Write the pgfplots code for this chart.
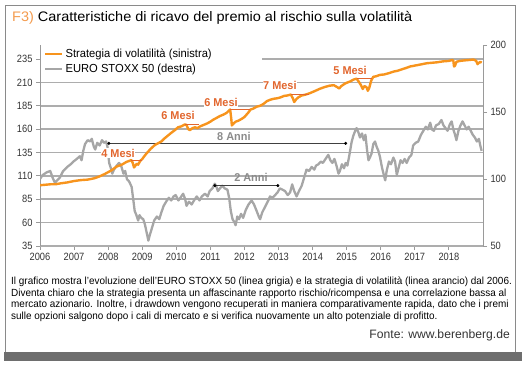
\documentclass[border=0pt]{standalone}
\usepackage{pgfplots}
\pgfplotsset{compat=1.18}
\usepackage{fontspec}
\setmainfont{Liberation Sans}
\newfontfamily\condfont{Liberation Sans}[FakeStretch=0.88]
\newfontfamily\txtfont{Liberation Sans}[FakeStretch=0.96]
\newfontfamily\titlefont{Liberation Sans}[FakeStretch=1.05]
\definecolor{orline}{HTML}{F7941D}
\definecolor{mesi}{HTML}{E2662E}
\definecolor{f3col}{HTML}{F39A4C}
\definecolor{grline}{HTML}{A6A6A6}
\definecolor{gridgray}{HTML}{ADADAD}
\definecolor{axisgray}{HTML}{9A9A9A}
\definecolor{framegray}{HTML}{8A8A8A}
\definecolor{bandgray}{HTML}{6E6E6E}
\definecolor{ticktext}{HTML}{333333}
\definecolor{annlabel}{HTML}{8C8C8C}

\pgfplotstableread{
x y
2006.00 100
2006.08 103
2006.20 105
2006.30 106
2006.37 101
2006.44 97
2006.50 99
2006.58 101
2006.68 106
2006.80 109
2006.90 111
2006.98 113
2007.08 115
2007.17 117
2007.22 114
2007.27 121
2007.32 126
2007.40 129
2007.47 128
2007.52 130
2007.58 124
2007.62 122
2007.68 127
2007.75 125
2007.82 129
2007.88 127
2007.94 128
2007.98 124
2008.03 112
2008.08 108
2008.12 104
2008.17 107
2008.25 110
2008.32 112
2008.38 110
2008.45 104
2008.50 106
2008.55 100
2008.62 98
2008.69 94
2008.73 86
2008.78 76
2008.83 73
2008.88 69
2008.92 73
2008.97 71
2009.03 70
2009.08 66
2009.13 60
2009.18 54
2009.22 58
2009.28 63
2009.35 69
2009.43 72
2009.50 70
2009.56 75
2009.63 80
2009.70 83
2009.78 86
2009.85 84
2009.92 87
2009.98 88
2010.06 84
2010.12 86
2010.20 89
2010.26 85
2010.30 80
2010.37 83
2010.45 81
2010.52 84
2010.60 87
2010.68 84
2010.75 87
2010.84 89
2010.92 87
2010.98 91
2011.06 93
2011.13 96.5
2011.18 94
2011.22 91
2011.28 93
2011.35 95
2011.42 93
2011.50 92
2011.55 86
2011.60 76
2011.65 70
2011.70 68
2011.74 65.5
2011.79 72
2011.84 70
2011.90 74
2011.96 71
2012.04 77
2012.12 81
2012.21 84
2012.28 81
2012.36 76
2012.42 72
2012.46 70
2012.52 75
2012.58 78
2012.64 81
2012.70 84
2012.75 87
2012.82 86
2012.90 88
2012.97 90
2013.04 93
2013.12 92
2013.19 91
2013.27 88
2013.34 90
2013.40 96
2013.46 91
2013.53 87
2013.60 91
2013.68 95
2013.75 101
2013.82 107
2013.90 106
2013.97 109
2014.05 107
2014.10 110
2014.17 111
2014.24 113
2014.30 112
2014.38 115
2014.46 118
2014.52 114
2014.58 112
2014.64 115
2014.70 110
2014.76 104
2014.80 106
2014.86 111
2014.92 108
2014.97 112
2015.02 110
2015.08 118
2015.14 127
2015.19 132
2015.25 136
2015.29 138
2015.34 135
2015.39 131
2015.45 134
2015.50 129
2015.55 133
2015.60 121
2015.64 114
2015.68 116
2015.73 119
2015.78 126
2015.83 128
2015.88 124
2015.93 121
2015.98 116
2016.04 108
2016.10 102
2016.13 99
2016.18 107
2016.24 113
2016.30 111
2016.37 116
2016.42 113
2016.47 103
2016.52 108
2016.58 114
2016.64 112
2016.70 115
2016.76 112
2016.83 116
2016.90 118
2016.95 125
2017.02 127
2017.10 128
2017.18 133
2017.25 136
2017.32 139
2017.38 137
2017.45 142
2017.50 137
2017.56 136
2017.62 140
2017.70 141
2017.78 144
2017.84 140
2017.90 138
2017.96 136
2018.03 141
2018.08 143
2018.13 137
2018.18 133
2018.22 129
2018.28 136
2018.34 140
2018.40 143
2018.46 140
2018.52 137
2018.58 139
2018.64 136
2018.70 133
2018.76 131
2018.82 128
2018.88 130
2018.92 125
2018.96 121
}\stoxx

\pgfplotstableread{
x y
2006.00 100
2006.15 100.5
2006.30 101
2006.45 101
2006.60 102
2006.80 103
2007.00 104.5
2007.20 105.5
2007.40 106
2007.60 107.5
2007.75 109.5
2007.90 112
2008.00 114
2008.10 116
2008.25 120
2008.40 122
2008.54 125
2008.62 126
2008.68 127
2008.72 124
2008.76 119
2008.80 121
2008.84 123
2008.88 122
2008.94 126
2009.00 128
2009.08 132
2009.15 135
2009.25 139
2009.37 143
2009.47 145
2009.57 147
2009.65 150
2009.75 153
2009.85 156
2009.96 159
2010.05 162
2010.15 163
2010.25 165
2010.30 164.5
2010.35 160
2010.40 159
2010.47 161
2010.55 162
2010.62 161
2010.70 163
2010.80 164.5
2010.90 166
2011.00 168
2011.08 170
2011.18 172
2011.28 174
2011.38 175.5
2011.48 177.5
2011.55 180
2011.58 181
2011.61 172
2011.63 164
2011.68 166
2011.74 168
2011.82 169
2011.92 171
2012.00 173
2012.06 175.5
2012.12 178
2012.18 181
2012.26 182
2012.36 184
2012.46 185
2012.56 187
2012.66 190
2012.76 191.5
2012.86 192.5
2012.96 193
2013.06 194
2013.16 195.5
2013.26 196
2013.36 197
2013.42 193
2013.46 189
2013.52 192
2013.58 194
2013.68 196
2013.80 197
2013.92 198.5
2014.05 200.5
2014.20 203
2014.35 205
2014.50 206.5
2014.62 207
2014.72 205
2014.78 203.5
2014.84 206
2014.96 209
2015.10 211
2015.20 213
2015.29 214
2015.35 211
2015.42 207
2015.47 203
2015.52 206
2015.58 205
2015.62 201
2015.66 204
2015.72 212
2015.78 216
2015.86 216.5
2015.97 218
2016.10 218.5
2016.25 220
2016.37 221.5
2016.50 222.5
2016.62 224
2016.75 225.5
2016.86 227
2017.00 228
2017.15 229
2017.35 230.5
2017.50 231
2017.65 231.5
2017.83 232.5
2018.00 233
2018.10 234
2018.13 233
2018.15 227
2018.18 228
2018.22 232
2018.32 233
2018.45 233.5
2018.60 234
2018.72 234.5
2018.80 233
2018.84 229.5
2018.88 231
2018.92 232
2018.96 231
}\strat

\pgfplotsset{
  base/.style={
    at={(40bp,-246bp)}, anchor=south west, scale only axis,
    width=443bp, height=201bp, xmin=2006, xmax=2019,
    /pgf/number format/assume math mode=true,
    tick label style={font=\condfont\fontsize{10.6}{12}\selectfont, text=ticktext},
    tick align=outside, major tick length=4bp,
    tick style={axisgray, line width=0.8bp},
  }
}

\begin{document}
\begin{tikzpicture}
\useasboundingbox (0,0) rectangle (522bp,-366bp);
\begin{scope}[x=1bp,y=-1bp]
  \fill[bandgray] (4,352) rectangle (522,361);
  \draw[framegray, line width=1.3bp] (5.5,352) -- (5.5,5.5) -- (515.5,5.5) -- (515.5,352);
  \node[anchor=base west, inner sep=0, font=\titlefont\fontsize{13.85}{15}\selectfont] at (12,21.5)
    {\textcolor{f3col}{F3)} Caratteristiche di ricavo del premio al rischio sulla volatilità};
  \begin{scope}[every node/.style={anchor=base west, inner sep=0, font=\txtfont\fontsize{10.4}{11}\selectfont}]
  \node at (11,284) {Il grafico mostra l’evoluzione dell’EURO STOXX 50 (linea grigia) e la strategia di volatilità (linea arancio) dal 2006.};
  \node at (11,296) {Diventa chiaro che la strategia presenta un affascinante rapporto rischio/ricompensa e una correlazione bassa al};
  \node at (11,307.7) {mercato azionario. Inoltre, i drawdown vengono recuperati in maniera comparativamente rapida, dato che i premi};
  \node at (11,319.3) {sulle opzioni salgono dopo i cali di mercato e si verifica nuovamente un alto potenziale di profitto.};
  \end{scope}
  \node[anchor=base east, inner sep=0, font=\fontsize{12.2}{14}\selectfont, text=black!80] at (510,338) {Fonte: www.berenberg.de};
\end{scope}

% axis 1: left scale, grid, x ticks
\begin{axis}[base,
  ymin=35, ymax=250,
  axis x line*=bottom, axis y line*=left,
  axis line style={-},
  y axis line style={draw=axisgray, line width=1bp},
  x axis line style={draw=gridgray, line width=1.6bp},
  xtick={2006,2007,...,2018}, ytick={35,60,...,235},
  xticklabel style={/pgf/number format/1000 sep={}},
  ymajorgrids, grid style={draw=gridgray, line width=1.6bp},
]
\end{axis}

% white box behind legend
\fill[white] (41bp,-46bp) rectangle (262bp,-78bp);

% axis 2: right scale, EURO STOXX
\begin{axis}[base,
  ymin=50, ymax=200,
  axis x line=none, axis y line*=right,
  axis line style={-, draw=axisgray, line width=1bp},
  ytick={50,100,150,200},
]
\addplot[grline, line width=2.3bp, line join=round] table {\stoxx};
\addplot[black!75, line width=0.6bp, mark=*, mark size=1.2bp, mark options={black}] coordinates {(2008.02,126.6) (2014.97,126.6)};
\addplot[black!75, line width=0.6bp, mark=*, mark size=1.2bp, mark options={black}] coordinates {(2011.13,95.1) (2012.98,95.1)};
\node[font=\txtfont\bfseries\fontsize{11.4}{13}\selectfont, text=annlabel, inner sep=0.5bp] at (axis cs:2011.69,131.9) {8 Anni};
\node[font=\txtfont\bfseries\fontsize{11.4}{13}\selectfont, text=annlabel, inner sep=0.5bp] at (axis cs:2012.19,101.5) {2 Anni};
\end{axis}

% axis 3: left scale, strategy
\begin{axis}[base,
  ymin=35, ymax=250, hide axis,
  legend style={at={(rel axis cs:0,1)}, anchor=north west, draw=none, fill=none,
    font=\txtfont\fontsize{11.7}{13}\selectfont, inner xsep=4bp, inner ysep=2bp, row sep=1bp},
  legend cell align=left,
  legend image code/.code={\draw[#1] (0bp,0bp) -- (17bp,0bp);},
]
\addplot[orline, line width=2.4bp, line join=round] table {\strat};
\addlegendentry{Strategia di volatilità (sinistra)}
\addlegendimage{grline, line width=2.3bp}
\addlegendentry{EURO STOXX 50 (destra)}
\addplot[mesi, line width=0.6bp] coordinates {(2008.68,127) (2009.0,127)};
\addplot[mesi, line width=0.6bp] coordinates {(2010.25,165) (2010.67,165)};
\addplot[mesi, line width=0.6bp] coordinates {(2011.58,181) (2012.15,181)};
\addplot[mesi, line width=0.6bp] coordinates {(2013.36,197) (2013.9,197)};
\addplot[mesi, line width=0.6bp] coordinates {(2015.29,214) (2015.75,214)};
\begin{scope}[every node/.style={font=\txtfont\bfseries\fontsize{11.4}{13}\selectfont, text=mesi, fill=white, inner sep=0.6bp}]
\node at (axis cs:2008.29,134.5) {4 Mesi};
\node at (axis cs:2010.05,175.1) {6 Mesi};
\node at (axis cs:2011.31,189.0) {6 Mesi};
\node at (axis cs:2013.04,207.2) {7 Mesi};
\node at (axis cs:2015.10,223.3) {5 Mesi};
\end{scope}
\end{axis}
\end{tikzpicture}
\end{document}
